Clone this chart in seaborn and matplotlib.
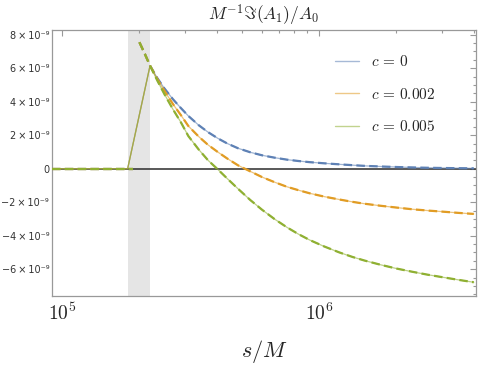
import numpy as np
import pandas as pd
import matplotlib
matplotlib.use("Agg")
import matplotlib.pyplot as plt
import matplotlib.ticker as mticker
import seaborn as sns

# datos (valores en unidades de 1e-9)
s_zero = [9.14e4, 1.2e5, 1.5e5, 1.8e5]           # tramo nulo antes de la banda
s_curve = [2.2e5, 2.35e5, 2.5e5, 2.7e5, 2.9e5, 3.1e5, 3.4e5, 3.7e5, 4.05e5, 4.4e5,
           4.84e5, 5.4e5, 6.0e5, 6.7e5, 7.5e5, 8.3e5, 9.2e5, 1.05e6, 1.2e6, 1.35e6,
           1.5e6, 1.75e6, 2.0e6, 2.3e6, 2.65e6, 3.0e6, 3.5e6, 4.0e6]
c0 = [6.15, 5.4, 4.8, 4.15, 3.62, 3.15, 2.6, 2.18, 1.8, 1.5,
      1.22, 0.98, 0.8, 0.66, 0.54, 0.46, 0.39, 0.32, 0.26, 0.21,
      0.17, 0.13, 0.1, 0.075, 0.055, 0.042, 0.03, 0.02]
c002 = [6.15, 5.34, 4.66, 3.86, 3.2, 2.55, 1.92, 1.42, 0.98, 0.6,
        0.2, -0.16, -0.5, -0.8, -1.08, -1.28, -1.47, -1.67, -1.84, -1.98,
        -2.09, -2.22, -2.32, -2.42, -2.5, -2.56, -2.64, -2.7]
c005 = [6.15, 5.25, 4.46, 3.55, 2.77, 1.95, 1.15, 0.5, -0.06, -0.6,
        -1.2, -1.87, -2.45, -3.0, -3.5, -3.9, -4.26, -4.65, -5.0, -5.27,
        -5.48, -5.75, -5.96, -6.15, -6.33, -6.47, -6.64, -6.78]
labels = [r'$c\,=\,0$', r'$c\,=\,0.002$', r'$c\,=\,0.005$']
colors = ['#5E81B5', '#E19C24', '#8FB032']

# tramo punteado: cero hasta ~1.89e5, curva desde 2.0e5
s_dash_zero = [9.14e4, 1.89e5]
s_dash_pre = [2.0e5, 2.1e5]
dash_pre_vals = [7.55, 6.85]
band = (1.8e5, 2.2e5)

scale = 1e-9

sns.set_style('white')
plt.rcParams['mathtext.fontset'] = 'cm'
plt.rcParams['font.family'] = ['DejaVu Sans']

fig = plt.figure(figsize=(4.88, 3.68), dpi=100)
ax = fig.add_axes([52 / 488, 1 - 296 / 368, 424 / 488, 266 / 368])

ax.axvspan(band[0], band[1], color='#E5E5E5', lw=0, zorder=0)
ax.axhline(0, color='#2b2b2b', lw=1.1, zorder=1)

rows = []
for lab, vals in zip(labels, [c0, c002, c005]):
    for s in s_zero:
        rows.append((s, 0.0, lab))
    for s, v in zip(s_curve, vals):
        rows.append((s, v * scale, lab))
df = pd.DataFrame(rows, columns=['s', 'val', 'c'])

# lineas finas (numericas)
sns.lineplot(data=df, x='s', y='val', hue='c', palette=colors, lw=0.9, alpha=0.6,
             estimator=None, sort=False, ax=ax, zorder=2)

# lineas punteadas gruesas (aproximacion)
dash_lw = 1.6
dash_pat = [2.4 * dash_lw, 1.2 * dash_lw]
for col, vals in zip(colors, [c0, c002, c005]):
    sns.lineplot(x=s_dash_zero, y=[0.0, 0.0], color=col, lw=dash_lw,
                 ax=ax, zorder=3, legend=False).lines[-1].set_dashes(dash_pat)
    xs = s_dash_pre + s_curve
    ys = [v * scale for v in dash_pre_vals + vals]
    sns.lineplot(x=xs, y=ys, color=col, lw=dash_lw, estimator=None, sort=False,
                 ax=ax, zorder=3, legend=False).lines[-1].set_dashes(dash_pat)

ax.set_xscale('log')
ax.set_xlim(9.14e4, 4.08e6)
ax.set_ylim(-7.6e-9, 8.28e-9)

ax.xaxis.set_major_locator(mticker.FixedLocator([1e5, 1e6]))
ax.xaxis.set_minor_locator(mticker.LogLocator(base=10, subs=np.arange(2, 10), numticks=20))
ax.xaxis.set_major_formatter(mticker.FixedFormatter([r'$10^{5}$', r'$10^{6}$']))
ax.xaxis.set_minor_formatter(mticker.NullFormatter())

yt = [-6e-9, -4e-9, -2e-9, 0, 2e-9, 4e-9, 6e-9, 8e-9]
ylabs = ['\u22126\u2009\u00d7\u200910\u207b\u2079', '\u22124\u2009\u00d7\u200910\u207b\u2079',
         '\u22122\u2009\u00d7\u200910\u207b\u2079', '0',
         '2\u2009\u00d7\u200910\u207b\u2079', '4\u2009\u00d7\u200910\u207b\u2079',
         '6\u2009\u00d7\u200910\u207b\u2079', '8\u2009\u00d7\u200910\u207b\u2079']
ax.yaxis.set_major_locator(mticker.FixedLocator(yt))
ax.yaxis.set_major_formatter(mticker.FixedFormatter(ylabs))
ax.yaxis.set_minor_locator(mticker.MultipleLocator(0.5e-9))

ax.tick_params(axis='both', which='both', direction='in', top=True, right=True,
               color='#999999', width=0.8)
ax.tick_params(axis='both', which='major', length=4.5)
ax.tick_params(axis='both', which='minor', length=2.5)
ax.tick_params(axis='x', which='major', labelsize=14, pad=5)
ax.tick_params(axis='y', which='major', labelsize=7, labelcolor='#333333', pad=2)

for sp in ax.spines.values():
    sp.set_color('#999999')
    sp.set_linewidth(0.9)

ax.set_xlabel(r'$s/M$', fontsize=16, labelpad=10)
ax.set_ylabel('')
ax.set_title(r'$M^{-1}\Im(A_1)/A_0$', fontsize=12.5, pad=7)

handles, _ = ax.get_legend_handles_labels()
leg = ax.legend(handles[:3], labels, loc='upper left', bbox_to_anchor=(0.667, 0.91),
                frameon=False, fontsize=11, handlelength=1.6, handletextpad=0.75,
                labelspacing=1.15, borderpad=0, borderaxespad=0)
for h in leg.get_lines():
    h.set_linewidth(1.0)
    h.set_alpha(0.55)

fig.savefig('out.png', dpi=100)
